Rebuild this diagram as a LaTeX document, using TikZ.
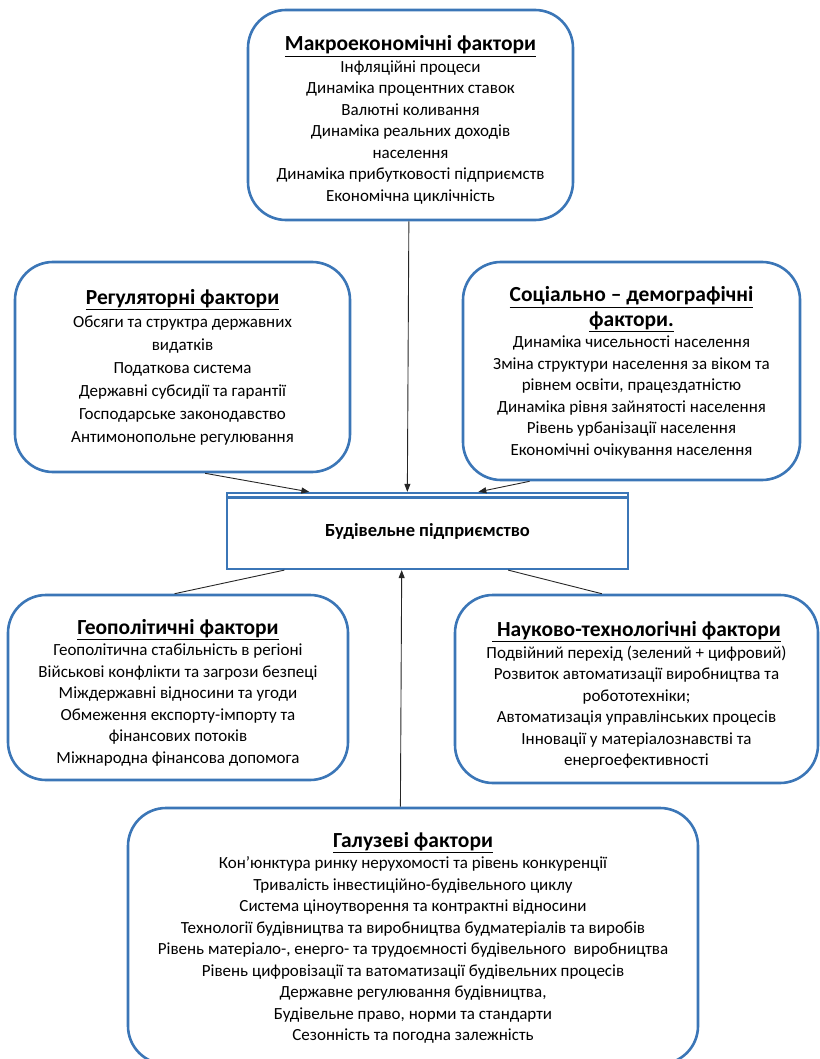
\documentclass[tikz,border=0pt]{standalone}
\usepackage{fontspec}
\setmainfont{Carlito}
\usepackage{tikz}
\usetikzlibrary{calc,arrows.meta}

\definecolor{boxblue}{HTML}{3B76B7}
% optional argument: strut height, pushes the text of a box down
\newcommand{\boxtitle}[2][0pt]{{\fontsize{21.5}{23}\selectfont\bfseries\rule{0pt}{#1}\underline{#2}}}
\tikzset{
  factor/.style={draw=boxblue,line width=2.6pt,rounded corners=38pt,fill=white,
    align=center,inner sep=0pt,font=\fontsize{17}{21.5}\selectfont},
  firmbox/.style={draw=boxblue,line width=2.2pt,fill=white,inner sep=0pt,
    font=\fontsize{18.5}{21}\selectfont\bfseries},
  link/.style={line width=0.9pt,black!85},
  tolink/.style={link,-{Triangle[length=8pt,width=6pt]}}
}

\begin{document}
\begin{tikzpicture}[x=1pt,y=-1pt]
\useasboundingbox (0,0) rectangle (819,1059);

\node[factor,minimum width=325,minimum height=210] (macro) at (410.5,115) {
  \boxtitle[25pt]{Макроекономічні фактори}\\
  Інфляційні процеси\\
  Динаміка процентних ставок\\
  Валютні коливання\\
  Динаміка реальних доходів\\
  населення\\
  Динаміка прибутковості підприємств\\
  Економічна циклічність
};
\node[factor,minimum width=335,minimum height=210] (regul) at (182.5,367) {
  \boxtitle{Регуляторні фактори}\\[1.5pt]
  Обсяги та структра державних\\[1.5pt]
  видатків\\[1.5pt]
  Податкова система\\[1.5pt]
  Державні субсидії та гарантії\\[1.5pt]
  Господарське законодавство\\[1.5pt]
  Антимонопольне регулювання
};
\node[factor,minimum width=337,minimum height=218] (social) at (631.5,371) {
  \boxtitle[18pt]{Соціально – демографічні}\\[3pt]
  \boxtitle{фактори.}\\
  Динаміка чисельності населення\\
  Зміна структури населення за віком та\\
  рівнем освіти, працездатністю\\
  Динаміка рівня зайнятості населення\\
  Рівень урбанізації населення\\
  Економічні очікування населення
};
\node[firmbox,minimum width=401,minimum height=76] (firm) at (427.5,531) {Будівельне підприємство};
\draw[boxblue,line width=2.2pt] ($(firm.north west)+(0,5.5)$) -- ($(firm.north east)+(0,5.5)$);

\node[factor,minimum width=340,minimum height=185] (geo) at (178,687.5) {
  \boxtitle[25pt]{Геополітичні фактори}\\
  Геополітична стабільність в регіоні\\
  Військові конфлікти та загрози безпеці\\
  Міждержавні відносини та угоди\\
  Обмеження експорту-імпорту та\\
  фінансових потоків\\
  Міжнародна фінансова допомога
};
\node[factor,minimum width=363,minimum height=188] (science) at (636.5,689) {
  \boxtitle[27pt]{\ Науково-технологічні фактори}\\
  Подвійний перехід (зелений + цифровий)\\
  Розвиток автоматизації виробництва та\\
  робототехніки;\\
  Автоматизація управлінських процесів\\
  Інновації у матеріалознавстві та\\
  енергоефективності
};
\node[factor,minimum width=570,minimum height=256] (branch) at (413,936) {
  \boxtitle[19pt]{Галузеві фактори}\\
  Кон’юнктура ринку нерухомості та рівень конкуренції\\
  Тривалість інвестиційно-будівельного циклу\\
  Система ціноутворення та контрактні відносини\\
  Технології будівництва та виробництва будматеріалів та виробів\\
  Рівень матеріало-, енерго- та трудоємності будівельного\ \ виробництва\\
  Рівень цифровізації та ватоматизації будівельних процесів\\
  Державне регулювання будівництва,\\
  Будівельне право, норми та стандарти\\
  Сезонність та погодна залежність
};

\draw[tolink] ($(macro.south west)!.495!(macro.south east)$) -- ($(firm.north west)!.45!(firm.north east)$);
\draw[tolink] ($(regul.south west)!.567!(regul.south east)$) -- ($(firm.north west)!.207!(firm.north east)$);
\draw[tolink] ($(social.south west)!.2!(social.south east)$) -- ($(firm.north west)!.626!(firm.north east)$);
\draw[tolink] ($(branch.north west)!.478!(branch.north east)$) -- ($(firm.south west)!.436!(firm.south east)$);
\draw[link] ($(firm.south west)!.145!(firm.south east)$) -- ($(geo.north west)!.49!(geo.north east)$);
\draw[link] ($(firm.south west)!.70!(firm.south east)$) -- ($(science.north west)!.405!(science.north east)$);
\end{tikzpicture}
\end{document}
